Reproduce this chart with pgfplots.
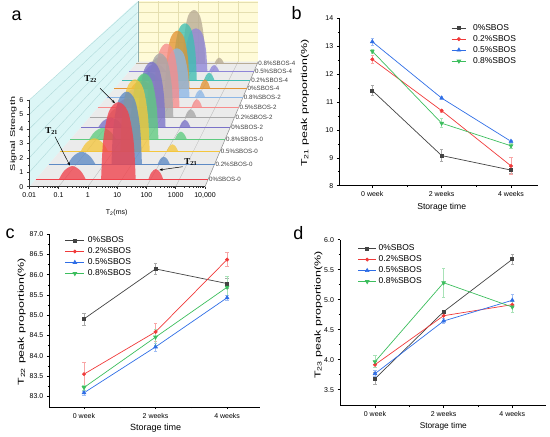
\documentclass[border=0pt]{standalone}
\usepackage{fontspec}
\setmainfont{Liberation Sans}
\newfontfamily\serifb{Liberation Serif}
\usepackage{pgfplots}
\pgfplotsset{compat=1.18}
\usetikzlibrary{arrows.meta}
\definecolor{g0}{HTML}{434343}
\definecolor{r0}{HTML}{F03A3A}
\definecolor{b0}{HTML}{2F6EE6}
\definecolor{gr0}{HTML}{3DBE5E}
\definecolor{k0}{HTML}{F0414B}
\definecolor{k1}{HTML}{5E8AC4}
\definecolor{k2}{HTML}{F4C63D}
\definecolor{k3}{HTML}{5FCB80}
\definecolor{k4}{HTML}{7A72C8}
\definecolor{k5}{HTML}{A8A8A8}
\definecolor{k6}{HTML}{F78C8C}
\definecolor{k7}{HTML}{8DB7E6}
\definecolor{k8}{HTML}{E39433}
\definecolor{k9}{HTML}{3FBFB2}
\definecolor{k10}{HTML}{8F86D8}
\definecolor{k11}{HTML}{B8AB95}
\definecolor{cyanwall}{HTML}{DCF6F6}
\definecolor{cyangrid}{HTML}{B0DADA}
\definecolor{yelwall}{HTML}{FFFBD8}
\definecolor{yelgrid}{HTML}{E5DFB0}
\definecolor{floorc}{HTML}{EBEBEB}
\pgfplotsset{
 slice/.style={scale only axis, hide axis, clip=false, xmin=-2, xmax=4, ymin=0, ymax=6, anchor=south west},
 pk/.style={fill=#1, fill opacity=0.78, draw=none, smooth, tension=0.55},
 lp/.style={scale only axis, anchor=south west, clip=false, axis lines*=left, tick align=outside,
   xtick={0,1,2}, xticklabels={0 week,2 weeks,4 weeks}, minor xtick={0.5,1.5}, minor y tick num=1,
   major tick length=2.5pt, minor tick length=1.5pt, tick style={black, line width=0.5pt},
   axis line style={black, line width=0.6pt}, /pgf/number format/assume math mode=true,
   ticklabel style={font=\fontsize{7}{8}\selectfont},
   legend cell align=left,
   legend style={draw=none, fill=none, inner sep=0pt, outer sep=0pt, font=\fontsize{8.5}{10}\selectfont,
     row sep=2.5pt, nodes={inner xsep=1pt, inner ysep=0pt, text height=6.5pt, text depth=2pt, font=\fontsize{8.5}{10}\selectfont}}},
 s0/.style={color=g0, line width=0.7pt, mark=square*, mark size=1.5pt,
   error bars/.cd, y dir=both, y explicit, error bar style={g0!45, line width=0.5pt},
   error mark options={g0!45, rotate=90, mark size=1.6pt, line width=0.5pt}},
 s1/.style={color=r0, line width=0.7pt, mark=*, mark size=1.6pt,
   error bars/.cd, y dir=both, y explicit, error bar style={r0!45, line width=0.5pt},
   error mark options={r0!45, rotate=90, mark size=1.6pt, line width=0.5pt}},
 s2/.style={color=b0, line width=0.7pt, mark=triangle*, mark size=2.1pt,
   error bars/.cd, y dir=both, y explicit, error bar style={b0!45, line width=0.5pt},
   error mark options={b0!45, rotate=90, mark size=1.6pt, line width=0.5pt}},
 s3/.style={color=gr0, line width=0.7pt, mark=triangle*, mark size=2.1pt, mark options={rotate=180},
   error bars/.cd, y dir=both, y explicit, error bar style={gr0!45, line width=0.5pt},
   error mark options={gr0!45, rotate=90, mark size=1.6pt, line width=0.5pt}},
}
\newcommand{\slice}[9]{%
\begin{axis}[slice, at={(#1pt,#2pt)}, width=#3pt, height=#4pt]
\addplot[draw=#5, line width=0.6pt] coordinates {(-2,0) (4,0)};
\addplot[pk=#5] coordinates {#7};
\addplot[pk=#5] coordinates {#8};
\addplot[pk=#5] coordinates {#9};
\node[anchor=west, font=\fontsize{6.2}{7}\selectfont, text=black!75, inner sep=0.8pt] at (axis cs:4,0) {#6};
\end{axis}}
\begin{document}
\begin{tikzpicture}
\useasboundingbox (0,0) rectangle (550pt,437pt);
% ---------------- panel a: walls and floor ----------------
\fill[cyanwall] (29.3pt,250.3pt) -- (29.3pt,337pt) -- (137.7pt,436pt) -- (137.7pt,375.3pt) -- cycle;
\fill[yelwall] (137.7pt,375.3pt) rectangle (258.1pt,436pt);
\fill[floorc] (29.3pt,250.3pt) -- (205pt,250.3pt) -- (258.1pt,375.3pt) -- (137.7pt,375.3pt) -- cycle;
\foreach \z in {1,...,6} \draw[cyangrid, line width=0.4pt] (29.3pt,{250.3pt+14.45pt*\z}) -- (137.7pt,{375.3pt+9.9pt*\z});
\foreach \j in {1,...,5} \draw[yelgrid, line width=0.4pt] ({137.7pt+20.07pt*\j},375.3pt) -- ({137.7pt+20.07pt*\j},436pt);
\foreach \z in {1,...,6} \draw[yelgrid, line width=0.4pt] (137.7pt,{375.3pt+9.9pt*\z}) -- (258.1pt,{375.3pt+9.9pt*\z});
\foreach \j in {1,...,5} \draw[black!25, line width=0.4pt] ({29.3pt+29.28pt*\j},250.3pt) -- ({137.7pt+20.07pt*\j},375.3pt);
\draw[black!45, line width=0.5pt] (205pt,250.3pt) -- (258.1pt,375.3pt);
\draw[cyangrid!80!black, line width=0.4pt] (137.7pt,375.3pt) -- (137.7pt,436pt);
% ---------------- slices (back to front) ----------------
\slice{136.3}{373.7}{121.1}{59.8}{k11}{0.8\%SBOS-4}
 {(-1.25,0) (-1.05,0.455) (-0.75,0.7) (-0.45,0.455) (-0.25,0)}
 {(0.31,0) (0.376,2.675) (0.558,4.708) (0.86,5.35) (1.162,4.708) (1.344,2.675) (1.41,0)}
 {(1.88,0) (1.972,0.364) (2.11,0.56) (2.248,0.364) (2.34,0)}
\slice{129.4}{365.7}{124.7}{61.5}{k10}{0.5\%SBOS-4}
 {(-1.25,0) (-1.05,0.488) (-0.75,0.75) (-0.45,0.488) (-0.25,0)}
 {(0.65,0) (0.716,2.1) (0.898,3.696) (1.2,4.2) (1.502,3.696) (1.684,2.1) (1.75,0)}
 {(1.84,0) (1.936,0.397) (2.08,0.61) (2.224,0.397) (2.32,0)}
\slice{121.8}{357.0}{128.5}{63.4}{k9}{0.2\%SBOS-4}
 {(-1.25,0) (-1.05,0.488) (-0.75,0.75) (-0.45,0.488) (-0.25,0)}
 {(0.40,0) (0.466,2.685) (0.648,4.726) (0.95,5.37) (1.252,4.726) (1.434,2.685) (1.50,0)}
 {(1.84,0) (1.936,0.449) (2.08,0.69) (2.224,0.449) (2.32,0)}
\slice{114.3}{348.3}{132.4}{65.3}{k8}{0\%SBOS-4}
 {(-1.25,0) (-1.05,0.488) (-0.75,0.75) (-0.45,0.488) (-0.25,0)}
 {(0.31,0) (0.376,2.665) (0.558,4.69) (0.86,5.33) (1.162,4.69) (1.344,2.665) (1.41,0)}
 {(1.87,0) (1.966,0.559) (2.11,0.86) (2.254,0.559) (2.35,0)}
\slice{106.5}{339.3}{136.4}{67.3}{k7}{0.8\%SBOS-2}
 {(-1.25,0) (-1.05,0.52) (-0.75,0.8) (-0.45,0.52) (-0.25,0)}
 {(0.55,0) (0.616,2.2) (0.798,3.872) (1.1,4.4) (1.402,3.872) (1.584,2.2) (1.65,0)}
 {(1.88,0) (1.972,0.449) (2.11,0.69) (2.248,0.449) (2.34,0)}
\slice{97.81}{329.3}{140.8}{69.4}{k6}{0.5\%SBOS-2}
 {(-1.25,0) (-1.05,0.52) (-0.75,0.8) (-0.45,0.52) (-0.25,0)}
 {(0.38,0) (0.446,2.775) (0.628,4.884) (0.93,5.55) (1.232,4.884) (1.414,2.775) (1.48,0)}
 {(1.99,0) (2.082,0.475) (2.22,0.73) (2.358,0.475) (2.45,0)}
\slice{89.74}{320.0}{144.9}{71.5}{k5}{0.2\%SBOS-2}
 {(-1.25,0) (-1.05,0.553) (-0.75,0.85) (-0.45,0.553) (-0.25,0)}
 {(0.36,0) (0.426,2.675) (0.608,4.708) (0.91,5.35) (1.212,4.708) (1.394,2.675) (1.46,0)}
 {(1.95,0) (2.042,0.423) (2.18,0.65) (2.318,0.423) (2.41,0)}
\slice{80.81}{309.7}{149.5}{73.7}{k4}{0\%SBOS-2}
 {(-1.3,0) (-1.1,0.52) (-0.8,0.8) (-0.5,0.52) (-0.3,0)}
 {(0.30,0) (0.366,2.67) (0.548,4.699) (0.85,5.34) (1.152,4.699) (1.334,2.67) (1.40,0)}
 {(1.96,0) (2.048,0.39) (2.18,0.6) (2.312,0.39) (2.40,0)}
\slice{70.41}{297.7}{154.8}{76.3}{k3}{0.8\%SBOS-0}
 {(-1.27,0) (-1.062,0.585) (-0.75,0.9) (-0.438,0.585) (-0.23,0)}
 {(0.31,0) (0.376,2.595) (0.558,4.567) (0.86,5.19) (1.162,4.567) (1.344,2.595) (1.41,0)}
 {(2.05,0) (2.142,0.39) (2.28,0.6) (2.418,0.39) (2.51,0)}
\slice{59.65}{285.3}{160.3}{79.1}{k2}{0.5\%SBOS-0}
 {(-1.22,0) (-1.012,0.663) (-0.70,1.02) (-0.388,0.663) (-0.18,0)}
 {(0.27,0) (0.336,2.745) (0.518,4.831) (0.82,5.49) (1.122,4.831) (1.304,2.745) (1.37,0)}
 {(2.00,0) (2.088,0.364) (2.22,0.56) (2.352,0.364) (2.44,0)}
\slice{48.73}{272.7}{165.9}{81.8}{k1}{0.2\%SBOS-0}
 {(-1.31,0) (-1.11,0.598) (-0.81,0.92) (-0.51,0.598) (-0.31,0)}
 {(0.27,0) (0.336,2.665) (0.518,4.69) (0.82,5.33) (1.122,4.69) (1.304,2.665) (1.37,0)}
 {(1.94,0) (2.028,0.364) (2.16,0.56) (2.292,0.364) (2.38,0)}
\slice{35.54}{257.5}{172.6}{85.1}{k0}{0\%SBOS-0}
 {(-1.19,0) (-1.002,0.62) (-0.72,0.95) (-0.438,0.62) (-0.25,0)}
 {(0.28,0) (0.352,2.725) (0.55,4.796) (0.88,5.45) (1.21,4.796) (1.408,2.725) (1.48,0)}
 {(1.92,0) (2.024,0.481) (2.18,0.74) (2.336,0.481) (2.44,0)}
% ---------------- front axis ----------------
\begin{axis}[scale only axis, anchor=south west, at={(29.3pt,250.3pt)}, width=175.7pt, height=86.7pt,
  xmode=log, xmin=0.01, xmax=10000, ymin=0, ymax=6, axis lines*=left, tick align=outside,
  xtick={0.01,0.1,1,10,100,1000,10000}, xticklabels={0.01,0.1,1,10,100,1000,{10,000}},
  minor xtick={0.02,0.03,0.04,0.05,0.06,0.07,0.08,0.09,0.2,0.3,0.4,0.5,0.6,0.7,0.8,0.9,2,3,4,5,6,7,8,9,20,30,40,50,60,70,80,90,200,300,400,500,600,700,800,900,2000,3000,4000,5000,6000,7000,8000,9000},
  ytick={0,...,6}, minor y tick num=1, major tick length=2.5pt, minor tick length=1.3pt,
  tick style={black!80, line width=0.5pt}, axis line style={black!80, line width=0.6pt},
  /pgf/number format/assume math mode=true, ticklabel style={font=\fontsize{7}{8}\selectfont}]
\addplot[draw=none] coordinates {(1,0)};
\end{axis}
\node[rotate=90, xscale=1.55, font=\fontsize{7}{8}\selectfont] at (13.3pt,303pt) {Signal Strength};
\node[font=\fontsize{7}{8}\selectfont] at (116.7pt,224.5pt) {T\textsubscript{2}(ms)};
\node[font=\serifb\bfseries\fontsize{9}{10}\selectfont] at (51.7pt,306pt) {T\textsubscript{21}};
\node[font=\serifb\bfseries\fontsize{9}{10}\selectfont] at (90.7pt,358pt) {T\textsubscript{22}};
\node[font=\serifb\bfseries\fontsize{9}{10}\selectfont] at (190.7pt,274.7pt) {T\textsubscript{23}};
\draw[-{Stealth[length=3.5pt,width=2.5pt]}, line width=0.5pt] (55pt,300.3pt) -- (70pt,271.3pt);
\draw[-{Stealth[length=3.5pt,width=2.5pt]}, line width=0.5pt] (100pt,348.7pt) -- (115pt,333.7pt);
\draw[-{Stealth[length=3.5pt,width=2.5pt]}, line width=0.5pt] (182.7pt,270.3pt) -- (159.3pt,267pt);
\node[font=\fontsize{18}{18}\selectfont] at (16.7pt,421pt) {a};
% ---------------- panel b ----------------
\begin{axis}[lp, at={(339.3pt,251.3pt)}, width=199pt, height=167.4pt,
  xmin=-0.476, xmax=2.394, ymin=8, ymax=14, ytick={8,...,14},
  legend style={at={(axis description cs:0.563,0.967)}, anchor=north west,
    /tikz/every odd column/.append style={column sep=5.6pt}},
  legend image code/.code={\draw[mark repeat=2, mark phase=2, #1] plot coordinates {(0pt,0pt) (7.2pt,0pt) (14.4pt,0pt)};}]
\addplot[s0] coordinates {(0,11.41) +- (0,0.18) (1,9.08) +- (0,0.22) (2,8.56) +- (0,0.12)};
\addplot[s1] coordinates {(0,12.53) +- (0,0.15) (1,10.69) +- (0,0.05) (2,8.71) +- (0,0.3)};
\addplot[s2] coordinates {(0,13.16) +- (0,0.13) (1,11.14) +- (0,0.05) (2,9.59) +- (0,0.05)};
\addplot[s3] coordinates {(0,12.82) +- (0,0.08) (1,10.24) +- (0,0.16) (2,9.43) +- (0,0.1)};
\legend{0\%SBOS,0.2\%SBOS,0.5\%SBOS,0.8\%SBOS}
\end{axis}
\node[font=\fontsize{18}{18}\selectfont] at (296.7pt,423.7pt) {b};
\node[font=\fontsize{8.6}{10}\selectfont] at (441.7pt,229.7pt) {Storage time};
\node[rotate=90, xscale=1.45, font=\fontsize{8.6}{10}\selectfont] at (305pt,334pt) {T\textsubscript{21} peak proportion(\%)};
% ---------------- panel c ----------------
\begin{axis}[lp, at={(49.3pt,30pt)}, width=210.7pt, height=173pt,
  xmin=-0.485, xmax=2.46, ymin=82.74, ymax=87, ytick={83,83.5,84,84.5,85,85.5,86,86.5,87},
  yticklabel style={/pgf/number format/.cd, fixed, fixed zerofill, precision=1},
  legend style={at={(axis description cs:0.0745,0.987)}, anchor=north west,
    /tikz/every odd column/.append style={column sep=2.3pt}},
  legend image code/.code={\draw[mark repeat=2, mark phase=2, #1] plot coordinates {(0pt,0pt) (9.5pt,0pt) (19pt,0pt)};}]
\addplot[s0] coordinates {(0,84.91) +- (0,0.15) (1,86.14) +- (0,0.14) (2,85.78) +- (0,0.12)};
\addplot[s1] coordinates {(0,83.55) +- (0,0.29) (1,84.59) +- (0,0.22) (2,86.37) +- (0,0.17)};
\addplot[s2] coordinates {(0,83.09) +- (0,0.05) (1,84.22) +- (0,0.1) (2,85.43) +- (0,0.05)};
\addplot[s3] coordinates {(0,83.22) +- (0,0.06) (1,84.46) +- (0,0.2) (2,85.69) +- (0,0.26)};
\legend{0\%SBOS,0.2\%SBOS,0.5\%SBOS,0.8\%SBOS}
\end{axis}
\node[font=\fontsize{18}{18}\selectfont] at (10pt,203.7pt) {c};
\node[font=\fontsize{9}{10}\selectfont] at (155.7pt,8.7pt) {Storage time};
\node[rotate=90, xscale=1.45, font=\fontsize{8.6}{10}\selectfont] at (21.7pt,115.3pt) {T\textsubscript{22} peak proportion(\%)};
% ---------------- panel d ----------------
\begin{axis}[lp, at={(340pt,31.3pt)}, width=205.7pt, height=166pt,
  xmin=-0.51, xmax=2.487, ymin=3.233, ymax=6, ytick={3.5,4,4.5,5,5.5,6},
  yticklabel style={/pgf/number format/.cd, fixed, fixed zerofill, precision=1},
  legend style={at={(axis description cs:0.0875,0.972)}, anchor=north west,
    /tikz/every odd column/.append style={column sep=1.3pt}},
  legend image code/.code={\draw[mark repeat=2, mark phase=2, #1] plot coordinates {(0pt,0pt) (8.85pt,0pt) (17.7pt,0pt)};}]
\addplot[s0] coordinates {(0,3.683) +- (0,0.1) (1,4.80) +- (0,0.03) (2,5.673) +- (0,0.08)};
\addplot[s1] coordinates {(0,3.917) +- (0,0.05) (1,4.733) +- (0,0.05) (2,4.917) +- (0,0.05)};
\addplot[s2] coordinates {(0,3.767) +- (0,0.05) (1,4.645) +- (0,0.04) (2,4.99) +- (0,0.1)};
\addplot[s3] coordinates {(0,3.967) +- (0,0.1) (1,5.283) +- (0,0.24) (2,4.878) +- (0,0.09)};
\legend{0\%SBOS,0.2\%SBOS,0.5\%SBOS,0.8\%SBOS}
\end{axis}
\node[font=\fontsize{18}{18}\selectfont] at (298.3pt,203.7pt) {d};
\node[font=\fontsize{8.3}{10}\selectfont] at (443.3pt,11pt) {Storage time};
\node[rotate=90, xscale=1.45, font=\fontsize{8.6}{10}\selectfont] at (318.3pt,122pt) {T\textsubscript{23} peak proportion(\%)};
\end{tikzpicture}
\end{document}
